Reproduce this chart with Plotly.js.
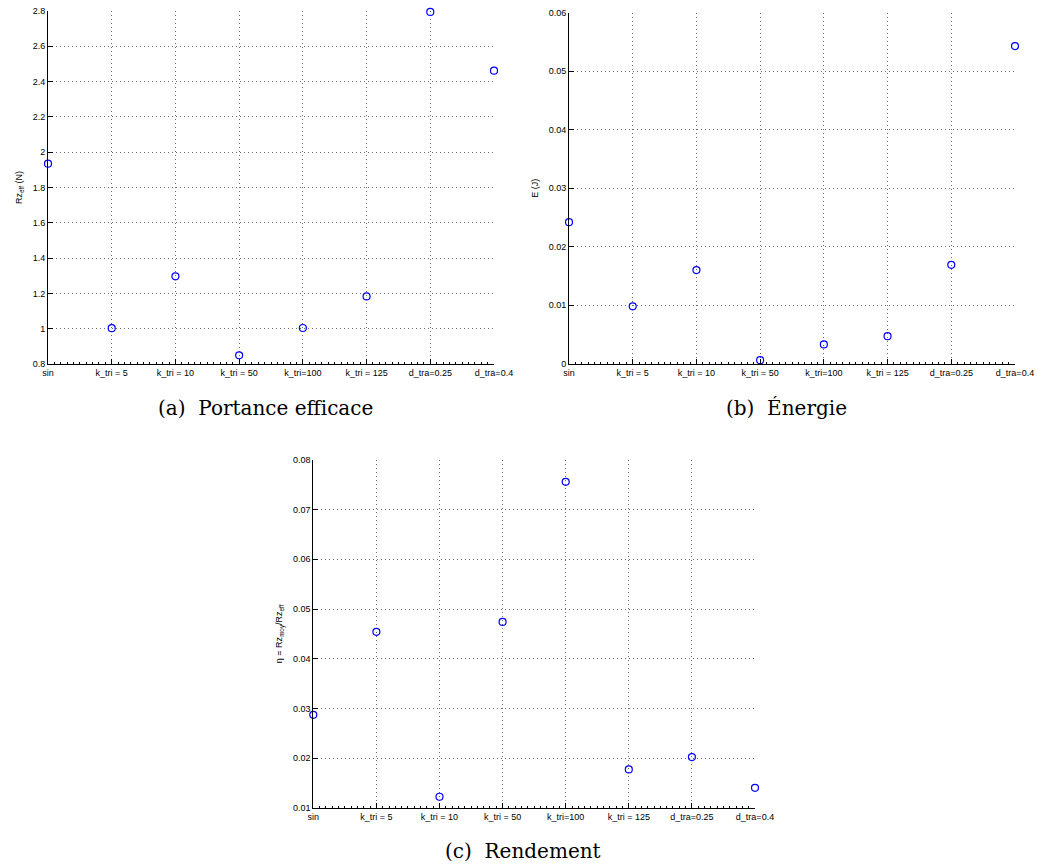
<!DOCTYPE html>
<html>
<head>
<meta charset="utf-8">
<script src="https://cdn.plot.ly/plotly-3.0.1.min.js"></script>
<style>html,body{margin:0;padding:0;background:#fff;}#chart{width:1037px;height:868px;}</style>
</head>
<body>
<div id="chart"></div>
<script>
const categories = ["sin", "k_tri = 5", "k_tri = 10", "k_tri = 50", "k_tri=100", "k_tri = 125", "d_tra=0.25", "d_tra=0.4"];
const portance = [1.935, 1.003, 1.297, 0.849, 1.004, 1.183, 2.795, 2.462];
const energie = [0.0242, 0.0098, 0.0160, 0.0006, 0.0033, 0.0047, 0.0169, 0.0543];
const rendement = [0.0287, 0.0454, 0.0122, 0.0474, 0.0756, 0.0177, 0.0202, 0.0140];
const captions = ["(a)  Portance efficace", "(b)  Énergie", "(c)  Rendement"];
const yTitles = ["Rz<sub>eff</sub> (N)", "E (J)", "η = Rz<sub>moy</sub>/Rz<sub>eff</sub>"];

const W = 1037, H = 868;
const tickFont = {family: "Liberation Sans, Arial, sans-serif", size: 9, color: "#000"};
const marker = {symbol: "circle-open", size: 7, color: "#0000ff", line: {width: 1.2, color: "#0000ff"}};

function xDom(l, r) { return [l / W, r / W]; }
function yDom(t, b) { return [1 - b / H, 1 - t / H]; }

function mkTrace(y, xa, ya) {
  return {x: categories, y: y, type: "scatter", mode: "markers", xaxis: xa, yaxis: ya,
          marker: marker, hoverinfo: "x+y", showlegend: false, cliponaxis: false};
}
const traces = [
  mkTrace(portance, "x", "y"),
  mkTrace(energie, "x2", "y2"),
  mkTrace(rendement, "x3", "y3"),
  {x: [], y: [], type: "scatter", xaxis: "x4", yaxis: "y", showlegend: false},
  {x: [], y: [], type: "scatter", xaxis: "x5", yaxis: "y2", showlegend: false},
  {x: [], y: [], type: "scatter", xaxis: "x6", yaxis: "y3", showlegend: false}
];

const gridStyle = {showgrid: true, gridcolor: "#6a6a6a", griddash: "1px,3px", gridwidth: 1};

function catAxis(dom, anchor) {
  return Object.assign({domain: dom, anchor: anchor, type: "category", range: [0, 7],
          showline: true, linecolor: "#000", linewidth: 1,
          ticks: "inside", ticklen: 5, tickcolor: "#000", tickwidth: 1,
          tickfont: tickFont, zeroline: false, fixedrange: true}, gridStyle);
}
function minorAxis(dom, over, anchor) {
  return {domain: dom, overlaying: over, anchor: anchor, type: "linear", range: [0, 7],
          dtick: 0.1, tick0: 0, ticks: "inside", ticklen: 2, tickcolor: "#000", tickwidth: 1,
          showticklabels: false, showgrid: false, showline: false, zeroline: false, fixedrange: true};
}
function valAxis(dom, anchor, range, dtick, title, standoff) {
  return Object.assign({domain: dom, anchor: anchor, range: range, dtick: dtick, tick0: range[0],
          showline: true, linecolor: "#000", linewidth: 1,
          ticks: "inside", ticklen: 5, tickcolor: "#000", tickwidth: 1,
          tickfont: tickFont, zeroline: false, fixedrange: true,
          title: {text: title, font: {family: "Liberation Sans, Arial, sans-serif", size: 9, color: "#000"}, standoff: standoff}}, gridStyle);
}

const xa = xDom(48, 494), xb = xDom(569, 1015), xc = xDom(313.3, 755);
const ya = yDom(11, 364), yb = yDom(12.7, 363.7), yc = yDom(460, 807.7);

const serif = {family: "DejaVu Serif, Liberation Serif, serif", size: 20, color: "#000"};
const layout = {
  width: W, height: H,
  margin: {l: 0, r: 0, t: 0, b: 0},
  paper_bgcolor: "#fff", plot_bgcolor: "#fff",
  showlegend: false,
  xaxis: catAxis(xa, "y"),
  xaxis2: catAxis(xb, "y2"),
  xaxis3: catAxis(xc, "y3"),
  xaxis4: minorAxis(xa, "x", "y"),
  xaxis5: minorAxis(xb, "x2", "y2"),
  xaxis6: minorAxis(xc, "x3", "y3"),
  yaxis: valAxis(ya, "x", [0.8, 2.8], 0.2, yTitles[0], 8),
  yaxis2: valAxis(yb, "x2", [0, 0.06], 0.01, yTitles[1], 8),
  yaxis3: valAxis(yc, "x3", [0.01, 0.08], 0.01, yTitles[2], 8),
  annotations: [
    {text: captions[0], xref: "paper", yref: "paper", x: 265 / W, y: 1 - 408 / H, showarrow: false, font: serif, xanchor: "center", yanchor: "middle"},
    {text: captions[1], xref: "paper", yref: "paper", x: 786 / W, y: 1 - 408 / H, showarrow: false, font: serif, xanchor: "center", yanchor: "middle"},
    {text: captions[2], xref: "paper", yref: "paper", x: 523 / W, y: 1 - 851 / H, showarrow: false, font: serif, xanchor: "center", yanchor: "middle"}
  ]
};

Plotly.newPlot("chart", traces, layout, {displayModeBar: false, staticPlot: true});
</script>
</body>
</html>
